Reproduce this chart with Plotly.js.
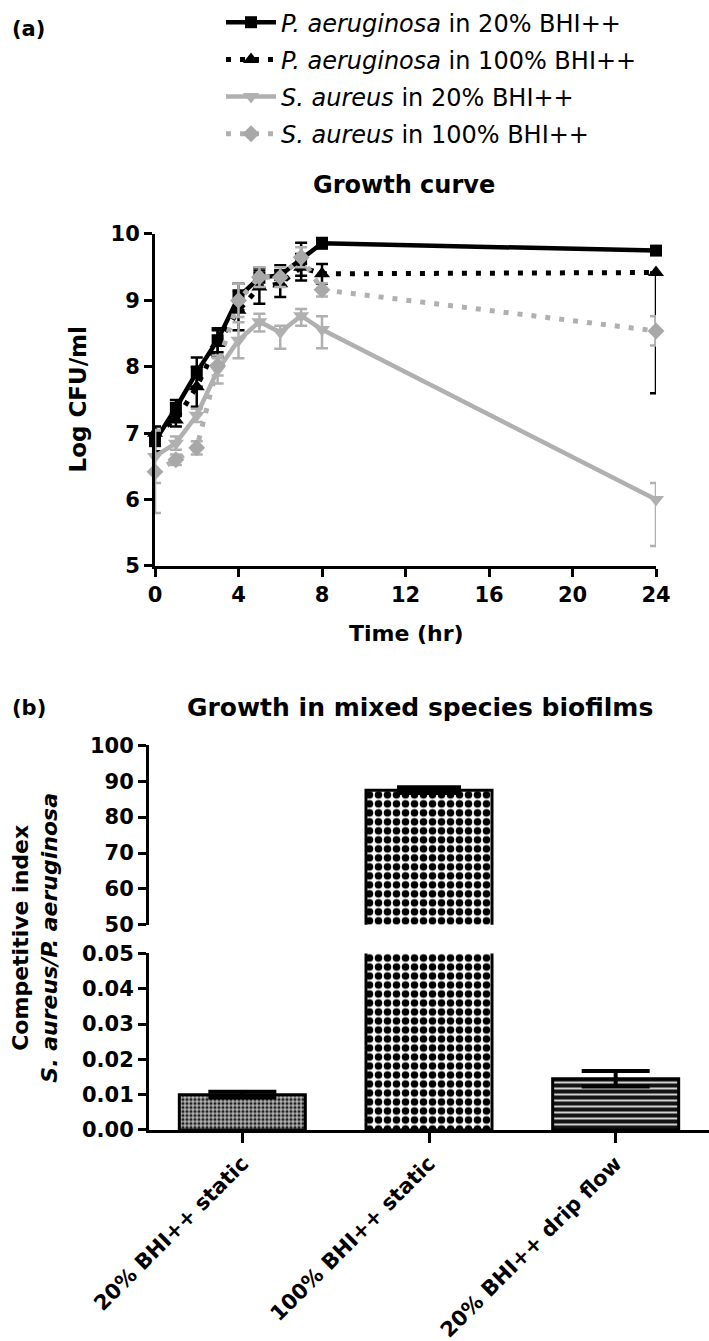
<!DOCTYPE html>
<html>
<head>
<meta charset="utf-8">
<script src="https://cdn.plot.ly/plotly-3.0.1.min.js"></script>
<style>html,body{margin:0;padding:0;background:#fff;}#chart{width:709px;height:1341px;}</style>
</head>
<body>
<div id="chart"></div>
<script>
// ---------- Data: (a) growth curve ----------
const hours = [0, 1, 2, 3, 4, 5, 6, 7, 8, 24];
const timeTicks = [0, 4, 8, 12, 16, 20, 24];

const pa20 = [6.88, 7.38, 7.92, 8.40, 9.05, 9.34, 9.38, 9.62, 9.86, 9.75];
const pa20Err = [0.15, 0.12, 0.22, 0.18, 0.20, 0.15, 0.15, 0.25, 0.08, 0.05];

const pa100 = [7.00, 7.20, 7.70, 8.35, 8.85, 9.20, 9.25, 9.50, 9.40, 9.42];
const pa100ErrPlus = [0.10, 0.10, 0.30, 0.20, 0.30, 0.25, 0.20, 0.20, 0.15, 0.00];
const pa100ErrMinus = [0.10, 0.10, 0.30, 0.20, 0.30, 0.25, 0.20, 0.20, 0.15, 1.82];

const sa20 = [6.65, 6.85, 7.27, 7.95, 8.40, 8.68, 8.52, 8.77, 8.56, 6.00];
const sa20ErrPlus = [0.40, 0.10, 0.10, 0.18, 0.27, 0.12, 0.10, 0.10, 0.20, 0.25];
const sa20ErrMinus = [0.40, 0.10, 0.10, 0.20, 0.27, 0.15, 0.25, 0.15, 0.28, 0.70];

const sa100 = [6.42, 6.60, 6.78, 8.02, 9.00, 9.35, 9.35, 9.65, 9.16, 8.54];
const sa100Err = [0.62, 0.08, 0.10, 0.15, 0.25, 0.15, 0.15, 0.15, 0.10, 0.22];

const legendNames = [
  '<i>P. aeruginosa</i> in 20% BHI++',
  '<i>P. aeruginosa</i> in 100% BHI++',
  '<i>S. aureus</i> in 20% BHI++',
  '<i>S. aureus</i> in 100% BHI++'
];

// ---------- Data: (b) competitive index ----------
const conditions = ['20% BHI++ static', '100% BHI++ static', '20% BHI++ drip flow'];
const competitiveIndex = [0.0100, 87.5, 0.0145];
const competitiveErr = [0.0008, 0.8, 0.0022];
const breakLow = 50;

// ---------- Layout helpers ----------
const W = 709, H = 1341;
const px = v => v / W;
const py = v => 1 - v / H;
const FONT = 'DejaVu Sans, Liberation Sans, Arial, sans-serif';
const BLACK = '#000000';
const GRAY = '#b0b0b0';
const GRAY2 = '#a8a8a8';

const tickFont = {family: FONT, size: 21, color: BLACK, weight: 'bold'};

function errBar(plus, minus, color, thick) {
  return {type: 'data', symmetric: false, array: plus, arrayminus: minus,
          color: color, thickness: thick, width: 6, visible: true};
}

const traces = [
  {
    x: hours, y: pa20, name: legendNames[0], legendgroup: 'g1',
    type: 'scatter', mode: 'lines+markers', cliponaxis: false,
    line: {color: BLACK, width: 4.5},
    marker: {symbol: 'square', size: 12, color: BLACK},
    error_y: errBar(pa20Err, pa20Err, BLACK, 2.5),
    xaxis: 'x', yaxis: 'y'
  },
  {
    x: hours, y: pa100, name: legendNames[1], legendgroup: 'g2',
    type: 'scatter', mode: 'lines+markers', cliponaxis: false,
    line: {color: BLACK, width: 5, dash: '5px,9px'},
    marker: {symbol: 'triangle-up', size: 14, color: BLACK},
    error_y: errBar(pa100ErrPlus, pa100ErrMinus, BLACK, 2.5),
    xaxis: 'x', yaxis: 'y'
  },
  {
    x: hours, y: sa20, name: legendNames[2], legendgroup: 'g3',
    type: 'scatter', mode: 'lines+markers', cliponaxis: false,
    line: {color: GRAY, width: 4.5},
    marker: {symbol: 'triangle-down', size: 14, color: GRAY},
    error_y: errBar(sa20ErrPlus, sa20ErrMinus, GRAY, 2.5),
    xaxis: 'x', yaxis: 'y'
  },
  {
    x: hours, y: sa100, name: legendNames[3], legendgroup: 'g4',
    type: 'scatter', mode: 'lines+markers', cliponaxis: false,
    line: {color: GRAY, width: 5, dash: '5px,9px'},
    marker: {symbol: 'diamond', size: 13, color: GRAY2},
    error_y: errBar(sa100Err, sa100Err, GRAY, 2.5),
    xaxis: 'x', yaxis: 'y'
  }
];

const barPattern = {
  shape: ['.', '.', '-'],
  fgcolor: ['#202020', '#000000', '#e6e6e6'],
  bgcolor: ['#b8b8b8', '#ffffff', '#141414'],
  size: [4, 9, 6],
  solidity: [0.5, 0.55, 0.3],
  fillmode: 'replace'
};

// lower segment of the broken axis
traces.push({
  x: conditions, y: competitiveIndex, type: 'bar', width: 0.675,
  showlegend: false,
  marker: {color: '#ffffff', line: {color: BLACK, width: 3}, pattern: barPattern},
  error_y: {type: 'data', array: competitiveErr, color: BLACK, thickness: 4, width: 34, visible: true},
  xaxis: 'x2', yaxis: 'y2'
});
// upper segment of the broken axis
traces.push({
  x: conditions, y: competitiveIndex.map(v => (v >= breakLow ? v : null)), type: 'bar', width: 0.675,
  showlegend: false,
  marker: {color: '#ffffff', line: {color: BLACK, width: 3}, pattern: barPattern},
  error_y: {type: 'data', array: competitiveErr, color: BLACK, thickness: 4, width: 32, visible: true},
  xaxis: 'x2', yaxis: 'y3'
});

const axisCommon = {
  showline: true, linecolor: BLACK, linewidth: 3,
  ticks: 'outside', ticklen: 8, tickwidth: 3, tickcolor: BLACK,
  showgrid: false, zeroline: false, tickfont: tickFont, fixedrange: true
};

const annFont = (size, weight) => ({family: FONT, size: size, color: BLACK, weight: weight || 'bold'});

const layout = {
  width: W, height: H,
  margin: {l: 0, r: 0, t: 0, b: 0, pad: 0},
  paper_bgcolor: '#ffffff', plot_bgcolor: '#ffffff',
  showlegend: true,
  legend: {
    x: px(221), y: py(-12), xanchor: 'left', yanchor: 'top',
    font: {family: FONT, size: 24, color: BLACK},
    traceorder: 'grouped', tracegroupgap: 3, itemwidth: 50,
    bgcolor: 'rgba(0,0,0,0)', borderwidth: 0
  },
  xaxis: Object.assign({}, axisCommon, {
    domain: [px(155), px(656)], range: [0, 24], tickvals: timeTicks, anchor: 'y'
  }),
  yaxis: Object.assign({}, axisCommon, {
    domain: [py(559), py(224)], range: [5, 10], dtick: 1, anchor: 'x'
  }),
  xaxis2: Object.assign({}, axisCommon, {
    domain: [px(149), 1], type: 'category', range: [-0.5, 2.5], anchor: 'y2',
    tickangle: -45, ticklen: 10
  }),
  yaxis2: Object.assign({}, axisCommon, {
    domain: [py(1128), py(950)], range: [0, 0.05], dtick: 0.01, tickformat: '.2f', anchor: 'x2'
  }),
  yaxis3: Object.assign({}, axisCommon, {
    domain: [py(921), py(740)], range: [50, 100], dtick: 10, anchor: 'x2'
  }),
  bargap: 0.3,
  annotations: [
    {text: '(a)', x: px(10), y: py(17), xref: 'paper', yref: 'paper', xanchor: 'left', yanchor: 'middle', showarrow: false, font: annFont(21)},
    {text: 'Growth curve', x: px(404), y: py(175), xref: 'paper', yref: 'paper', xanchor: 'center', yanchor: 'middle', showarrow: false, font: annFont(24)},
    {text: 'Log CFU/ml', x: px(78), y: py(391), xref: 'paper', yref: 'paper', xanchor: 'center', yanchor: 'middle', textangle: -90, showarrow: false, font: annFont(23)},
    {text: 'Time (hr)', x: px(406), y: py(627), xref: 'paper', yref: 'paper', xanchor: 'center', yanchor: 'middle', showarrow: false, font: annFont(22)},
    {text: '(b)', x: px(10), y: py(702), xref: 'paper', yref: 'paper', xanchor: 'left', yanchor: 'middle', showarrow: false, font: annFont(21)},
    {text: 'Growth in mixed species biofilms', x: px(420), y: py(702), xref: 'paper', yref: 'paper', xanchor: 'center', yanchor: 'middle', showarrow: false, font: annFont(25)},
    {text: 'Competitive index<br><i>S. aureus/P. aeruginosa</i>', x: px(35), y: py(934), xref: 'paper', yref: 'paper', xanchor: 'center', yanchor: 'middle', textangle: -90, showarrow: false, font: annFont(22)}
  ]
};

Plotly.newPlot('chart', traces, layout, {displayModeBar: false, staticPlot: true});
</script>
</body>
</html>
